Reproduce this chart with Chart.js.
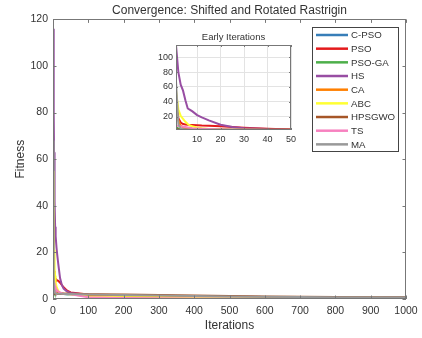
<!DOCTYPE html>
<html>
<head>
<meta charset="utf-8">
<script src="https://cdn.jsdelivr.net/npm/chart.js@4.4.0/dist/chart.umd.min.js"></script>
<style>
  body { margin: 0; background: #fff; }
  #wrap { position: relative; width: 422px; height: 338px; }
  #main { position: absolute; left: 0; top: 0; }
  #inset { position: absolute; left: 150px; top: 30px; }
</style>
</head>
<body>
<div id="wrap">
  <canvas id="main" width="422" height="338"></canvas>
  <canvas id="inset" width="167" height="120"></canvas>
</div>
<script>
const iters = [1, 2, 3, 4, 5, 6, 7, 8, 10, 12, 15, 20, 25, 30, 40, 50, 100, 200, 300, 400, 500, 600, 700, 800, 900, 1000];

const algoNames = ["C-PSO", "PSO", "PSO-GA", "HS", "CA", "ABC", "HPSGWO", "TS", "MA"];
const algoColors = ["#377eb8", "#e41a1c", "#4daf4a", "#984ea3", "#ff7f00", "#ffff33", "#a65628", "#f781bf", "#999999"];

// valores de fitness por algoritmo
const cpso   = [4.0, 3.2, 2.8, 2.6, 2.5, 2.4, 2.4, 2.3, 2.3, 2.2, 2.2, 2.1, 2.1, 2.1, 2.0, 2.0, 1.7, 1.5, 1.3, 1.1, 0.9, 0.8, 0.7, 0.6, 0.6, 0.5];
const pso    = [50, 18, 12, 10, 9.5, 9, 8.8, 8.6, 8.3, 8, 7.8, 7, 6, 5, 3.6, 2.8, 1.9, 1.6, 1.4, 1.2, 1.0, 0.9, 0.8, 0.7, 0.7, 0.6];
const psoga  = [6, 4, 3.2, 2.8, 2.6, 2.5, 2.4, 2.4, 2.3, 2.3, 2.2, 2.2, 2.1, 2.1, 2.0, 2.0, 1.6, 1.4, 1.2, 1.0, 0.9, 0.8, 0.7, 0.6, 0.6, 0.5];
const hs     = [116, 80, 63, 55, 42, 31, 29, 27, 22, 19, 15, 9, 6, 4.5, 3.2, 2.6, 1.8, 1.6, 1.4, 1.2, 1.0, 0.9, 0.8, 0.7, 0.7, 0.6];
const ca     = [38, 15, 8, 5.5, 4.5, 4, 3.7, 3.5, 3.2, 3, 2.8, 2.6, 2.5, 2.4, 2.3, 2.2, 1.7, 1.5, 1.3, 1.1, 1.0, 0.9, 0.8, 0.7, 0.7, 0.6];
const abc    = [55, 30, 21, 17, 13, 10, 8, 7, 5.5, 4.5, 3.5, 2.6, 2.3, 2.2, 2.1, 2.0, 1.1, 0.8, 0.7, 0.6, 0.5, 0.5, 0.4, 0.4, 0.4, 0.3];
const hpsgwo = [3.0, 2.8, 2.6, 2.5, 2.4, 2.4, 2.3, 2.3, 2.3, 2.3, 2.2, 2.2, 2.2, 2.2, 2.2, 2.2, 2.0, 1.9, 1.7, 1.5, 1.3, 1.1, 1.0, 0.9, 0.8, 0.8];
const ts     = [8, 7.5, 7, 6.5, 6, 5.5, 5, 4.5, 4, 3.6, 3.2, 2.8, 2.5, 2.3, 2.1, 2.0, 0.8, 0.4, 0.3, 0.2, 0.2, 0.1, 0.1, 0.1, 0.1, 0.1];
const ma     = [68, 10, 4, 3, 2.8, 2.6, 2.5, 2.4, 2.4, 2.3, 2.3, 2.2, 2.2, 2.2, 2.1, 2.1, 1.9, 1.7, 1.5, 1.3, 1.1, 1.0, 0.9, 0.8, 0.8, 0.7];

const allSeries = [cpso, pso, psoga, hs, ca, abc, hpsgwo, ts, ma];

const mainXTicks = [0, 100, 200, 300, 400, 500, 600, 700, 800, 900, 1000];
const mainYTicks = [0, 20, 40, 60, 80, 100, 120];
const insetXTicks = [10, 20, 30, 40, 50];
const insetYTicks = [20, 40, 60, 80, 100];

const FONT = "'Liberation Sans', Arial, sans-serif";
const TEXT = "#333";
const AXIS = "#777";

function buildDatasets() {
  return algoNames.map((name, i) => ({
    label: name,
    data: iters.map((it, k) => ({ x: it, y: allSeries[i][k] })),
    borderColor: algoColors[i],
    backgroundColor: algoColors[i],
    borderWidth: 2,
    pointRadius: 0,
    tension: 0,
    fill: false,
    order: algoNames.length - i // el último queda encima, como en MATLAB
  }));
}

// caja y marcas hacia dentro (estilo MATLAB)
function boxTicksPlugin(len) {
  return {
    id: "boxTicks",
    afterDatasetsDraw(chart) {
      const { ctx, chartArea: a, scales } = chart;
      ctx.save();
      ctx.strokeStyle = AXIS;
      ctx.lineWidth = 1;
      ctx.strokeRect(Math.round(a.left) + 0.5, Math.round(a.top) + 0.5,
        Math.round(a.right - a.left) - 1, Math.round(a.bottom - a.top) - 1);
      ctx.beginPath();
      scales.x.ticks.forEach(t => {
        const px = Math.round(scales.x.getPixelForValue(t.value)) + 0.5;
        ctx.moveTo(px, a.bottom); ctx.lineTo(px, a.bottom - len);
        ctx.moveTo(px, a.top); ctx.lineTo(px, a.top + len);
      });
      scales.y.ticks.forEach(t => {
        const py = Math.round(scales.y.getPixelForValue(t.value)) + 0.5;
        ctx.moveTo(a.left, py); ctx.lineTo(a.left + len, py);
        ctx.moveTo(a.right, py); ctx.lineTo(a.right - len, py);
      });
      ctx.stroke();
      ctx.restore();
    }
  };
}

// leyenda dibujada a mano en la esquina superior derecha
const legendBoxPlugin = {
  id: "legendBox",
  afterDraw(chart) {
    const ctx = chart.ctx;
    const x0 = 312, y0 = 27, w = 86, h = 124;
    ctx.save();
    ctx.fillStyle = "#fff";
    ctx.fillRect(x0, y0, w, h);
    ctx.strokeStyle = "#444";
    ctx.lineWidth = 1;
    ctx.strokeRect(x0 + 0.5, y0 + 0.5, w, h);
    ctx.font = "9.7px " + FONT;
    ctx.textBaseline = "middle";
    chart.data.datasets.forEach((ds, i) => {
      const y = 35 + i * 13.67;
      ctx.strokeStyle = ds.borderColor;
      ctx.lineWidth = 2.5;
      ctx.beginPath();
      ctx.moveTo(316, y);
      ctx.lineTo(348, y);
      ctx.stroke();
      ctx.fillStyle = TEXT;
      ctx.fillText(ds.label, 351, y + 0.5);
    });
    ctx.restore();
  }
};

const plotBgPlugin = {
  id: "plotBg",
  beforeDraw(chart) {
    const { ctx, chartArea: a } = chart;
    ctx.save();
    ctx.fillStyle = "#fff";
    ctx.fillRect(a.left, a.top, a.right - a.left, a.bottom - a.top);
    ctx.restore();
  }
};

const plainNum = v => String(v);

new Chart(document.getElementById("main"), {
  type: "line",
  data: { datasets: buildDatasets() },
  options: {
    responsive: false,
    animation: false,
    layout: { padding: { left: 0, right: 16, top: 0, bottom: 0 } },
    plugins: {
      legend: { display: false },
      tooltip: { enabled: false },
      title: {
        display: true,
        text: "Convergence: Shifted and Rotated Rastrigin",
        fullSize: false,
        color: TEXT,
        font: { family: FONT, size: 12, weight: "normal" },
        padding: { top: 3, bottom: 2 }
      }
    },
    scales: {
      x: {
        type: "linear", min: 0, max: 1000,
        afterBuildTicks: s => { s.ticks = mainXTicks.map(v => ({ value: v })); },
        afterFit: s => { s.height = 39; },
        grid: { display: false },
        border: { display: false },
        ticks: { color: TEXT, font: { family: FONT, size: 10.5 }, padding: -2, maxRotation: 0, callback: plainNum },
        title: { display: true, text: "Iterations", color: TEXT, font: { family: FONT, size: 12 }, padding: { top: 0, bottom: 5 } }
      },
      y: {
        type: "linear", min: 0, max: 120,
        afterBuildTicks: s => { s.ticks = mainYTicks.map(v => ({ value: v })); },
        afterFit: s => { s.width = 53; },
        grid: { display: false },
        border: { display: false },
        ticks: { color: TEXT, font: { family: FONT, size: 10.5 }, padding: -3, callback: plainNum },
        title: { display: true, text: "Fitness", color: TEXT, font: { family: FONT, size: 12 }, padding: { top: 13, bottom: 0 } }
      }
    }
  },
  plugins: [boxTicksPlugin(3.5), legendBoxPlugin]
});

// gráfico insertado: primeras 50 iteraciones
new Chart(document.getElementById("inset"), {
  type: "line",
  data: { datasets: buildDatasets() },
  options: {
    responsive: false,
    animation: false,
    layout: { padding: { left: 0, right: 26, top: 0, bottom: 0 } },
    plugins: {
      legend: { display: false },
      tooltip: { enabled: false },
      title: {
        display: true,
        text: "Early Iterations",
        fullSize: false,
        color: TEXT,
        font: { family: FONT, size: 9.5, weight: "normal" },
        padding: { top: 2, bottom: 1.6 }
      }
    },
    scales: {
      x: {
        type: "linear", min: 1, max: 50,
        afterBuildTicks: s => { s.ticks = insetXTicks.map(v => ({ value: v })); },
        afterFit: s => { s.height = 20; },
        grid: { color: "#e3e3e3", drawTicks: false },
        border: { display: false },
        ticks: { color: TEXT, font: { family: FONT, size: 9 }, padding: 4, maxRotation: 0 }
      },
      y: {
        type: "linear", min: 2, max: 116.5,
        afterBuildTicks: s => { s.ticks = insetYTicks.map(v => ({ value: v })); },
        afterFit: s => { s.width = 26; },
        grid: { color: "#e3e3e3", drawTicks: false },
        border: { display: false },
        ticks: { color: TEXT, font: { family: FONT, size: 9 }, padding: 3 }
      }
    }
  },
  plugins: [plotBgPlugin, boxTicksPlugin(2)]
});
</script>
</body>
</html>
